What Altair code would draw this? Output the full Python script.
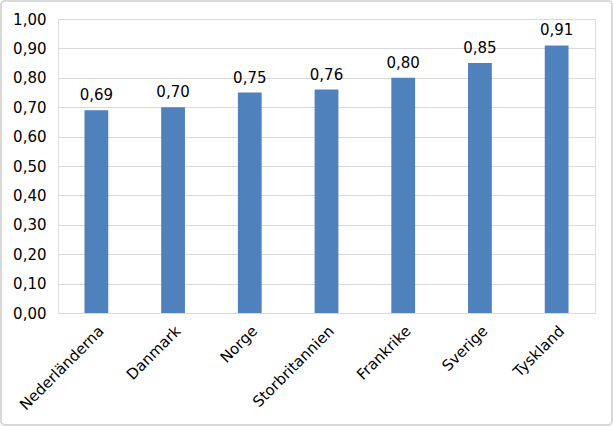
import altair as alt
import pandas as pd

countries = ["Nederländerna", "Danmark", "Norge", "Storbritannien", "Frankrike", "Sverige", "Tyskland"]
values = [0.69, 0.70, 0.75, 0.76, 0.80, 0.85, 0.91]
yticks = [0.0, 0.1, 0.2, 0.3, 0.4, 0.5, 0.6, 0.7, 0.8, 0.9, 1.0]

df = pd.DataFrame({"land": countries, "varde": values})

FONT = "DejaVu Sans"
FS = 15
W, H = 537, 294
PL, PT, PR, PB = 58, 19, 18, 113

x = alt.X("land:N", sort=countries, title=None,
          scale=alt.Scale(paddingInner=0.69, paddingOuter=0.345),
          axis=alt.Axis(labelAngle=-45, labelAlign="right", labelBaseline="top",
                        labelPadding=10, ticks=False, domain=True, domainColor="#d9d9d9",
                        labelOverlap=False, labelFont=FONT, labelFontSize=FS,
                        labelColor="#000000"))
y = alt.Y("varde:Q", title=None,
          scale=alt.Scale(domain=[0, 1], nice=False),
          axis=alt.Axis(values=yticks, domain=False, ticks=False,
                        labelExpr="replace(format(datum.value, '.2f'), '.', ',')",
                        labelOverlap=False, gridColor="#d9d9d9", labelPadding=12,
                        labelFont=FONT, labelFontSize=FS, labelColor="#000000"))

bars = alt.Chart(df).mark_bar(color="#4F81BD").encode(x=x, y=y)
labels = alt.Chart(df).transform_calculate(
    lbl="replace(format(datum.varde, '.2f'), '.', ',')"
).mark_text(dy=-7, baseline="bottom", font=FONT, fontSize=FS, color="#000000").encode(
    x=x, y=y, text="lbl:N")

border = alt.Chart(df).mark_rect(fill=None, stroke="#d9d9d9", strokeWidth=1.5,
                                 cornerRadius=4).encode(
    x=alt.value(-PL + 1), x2=alt.value(W + PR - 1),
    y=alt.value(-PT + 1), y2=alt.value(H + PB - 1))

chart = alt.layer(bars, labels, border).properties(
    width=W, height=H,
    autosize=alt.AutoSizeParams(type="none"),
    padding={"left": PL, "top": PT, "right": PR, "bottom": PB},
).configure_view(stroke=None).configure(background="white")

chart.save("out.html", embed_options={"renderer": "svg", "actions": False})
